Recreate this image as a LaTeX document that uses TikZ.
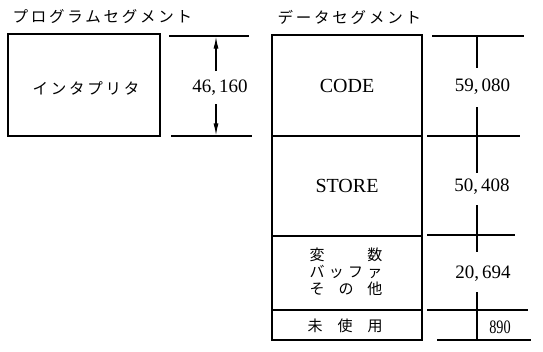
\documentclass[tikz,border=0pt]{standalone}
\usepackage{fontspec}
\usepackage{graphicx}
\usetikzlibrary{arrows.meta}
\setmainfont{Liberation Serif}
\newfontfamily\jp{Noto Sans CJK JP}
\newfontfamily\jpls[LetterSpace=18]{Noto Sans CJK JP}
\begin{document}
\begin{tikzpicture}[x=1pt,y=-1pt,line width=1.2pt,
  seg/.style={draw,inner sep=0pt,anchor=center,font=\fontsize{20}{20}\selectfont},
  num/.style={inner sep=1pt,font=\fontsize{19}{19}\selectfont},
  jph/.style={inner sep=0pt,anchor=west,font=\jpls\fontsize{15.5}{15.5}\selectfont},
  jpv/.style={inner sep=0pt,font=\jp\fontsize{15}{15}\selectfont},
  dimarrow/.style={-{Latex[length=12pt,width=5pt]}}]
\useasboundingbox (0,0) rectangle (543,351);
% headings
\node[jph] (h1) at (12,17) {プログラムセグメント};
\node[jph] (h2) at (277,17) {データセグメント};
% program segment
\node[seg,minimum width=152pt,minimum height=102pt] (interp) at (84,85) {};
\node[jph,anchor=center] (interpt) at (86,88) {インタプリタ};
% data segment
\node[seg,minimum width=150pt,minimum height=101pt] (code) at (347,85.5) {CODE};
\node[seg,minimum width=150pt,minimum height=100pt] (store) at (347,186) {STORE};
\node[seg,minimum width=150pt,minimum height=74pt] (var) at (347,273) {};
\node[seg,minimum width=150pt,minimum height=30pt] (unused) at (347,325) {};
\node[jpv] (v1) at (346,255) {\makebox[73pt][s]{変\hfill 数}};
\node[jpv] (v2) at (346,272) {\makebox[73pt][s]{バ\hfill ッ\hfill フ\hfill ァ}};
\node[jpv] (v3) at (346,289) {\makebox[73pt][s]{そ\hfill の\hfill 他}};
\node[jpv] (u1) at (345,326) {\makebox[75pt][s]{未\hfill 使\hfill 用}};
% left dimension
\coordinate (lt1) at (169,36); \coordinate (lt2) at (249,36);
\coordinate (lb1) at (171,136); \coordinate (lb2) at (252,136);
\draw (lt1) -- (lt2);
\draw (lb1) -- (lb2);
\node[num] (d1) at (220,88) {46,\,160};
\coordinate (la1) at (216,71); \coordinate (la2) at (216,36.6);
\coordinate (lb3) at (216,104); \coordinate (lb4) at (216,135.4);
\draw[dimarrow] (la1) -- (la2);
\draw[dimarrow] (lb3) -- (lb4);
% right dimension ticks
\coordinate (r1a) at (432,36); \coordinate (r1b) at (524,36);
\coordinate (r2a) at (427,136); \coordinate (r2b) at (520,136);
\coordinate (r3a) at (427,235); \coordinate (r3b) at (515,235);
\coordinate (r4a) at (427,310); \coordinate (r4b) at (528,310);
\coordinate (r5a) at (437,340); \coordinate (r5b) at (531,340);
\draw (r1a) -- (r1b);
\draw (r2a) -- (r2b);
\draw (r3a) -- (r3b);
\draw (r4a) -- (r4b);
\draw (r5a) -- (r5b);
% right dimension vertical segments
\coordinate (s1a) at (477,37); \coordinate (s1b) at (477,68);
\coordinate (s2a) at (477,107); \coordinate (s2b) at (477,173);
\coordinate (s3a) at (477,205); \coordinate (s3b) at (477,252);
\coordinate (s4a) at (477,292); \coordinate (s4b) at (477,340);
\draw (s1a) -- (s1b);
\draw (s2a) -- (s2b);
\draw (s3a) -- (s3b);
\draw (s4a) -- (s4b);
% numbers
\node[num] (n1) at (482.5,87) {59,\,080};
\node[num] (n2) at (482,187) {50,\,408};
\node[num] (n3) at (483,274) {20,\,694};
\node[num] (n4) at (500,327) {\scalebox{0.75}[1]{890}};
\end{tikzpicture}
\end{document}
